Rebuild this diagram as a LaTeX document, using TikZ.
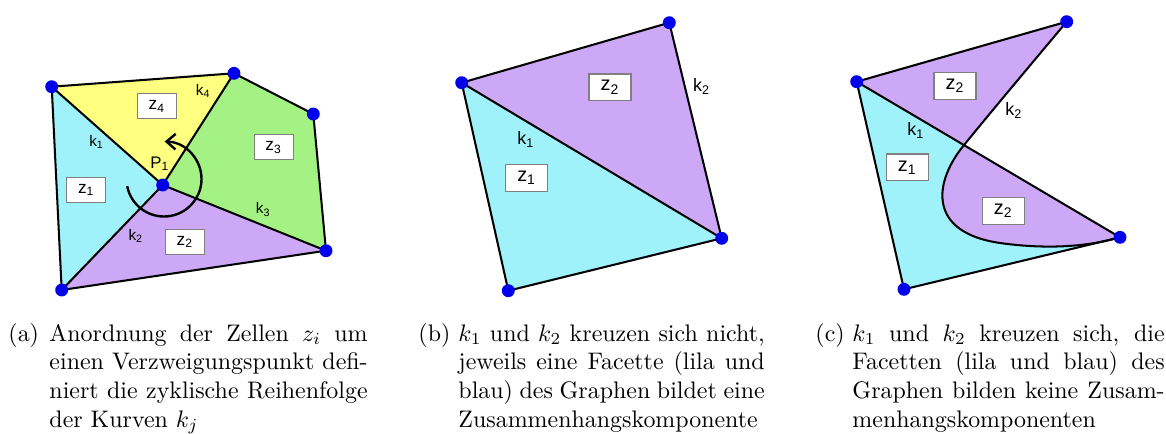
\documentclass[tikz,border=0pt]{standalone}
\usepackage{fontspec}
\newfontfamily\labfont{Liberation Sans}
\usetikzlibrary{arrows.meta,calc}
\definecolor{cyanf}{RGB}{160,242,250}
\definecolor{purplef}{RGB}{204,168,246}
\definecolor{yellowf}{RGB}{255,255,128}
\definecolor{greenf}{RGB}{164,242,132}
\definecolor{dotblue}{RGB}{0,0,235}
\begin{document}
\begin{tikzpicture}[x=0.418pt,y=-0.418pt,
  edge/.style={draw=black,line width=0.85pt,line join=round},
  vdot/.style={circle,fill=dotblue,inner sep=0pt,minimum size=5.4pt},
  zbox/.style={draw=black!50,fill=white,line width=0.5pt,minimum width=16.3pt,minimum height=10.5pt,inner sep=0pt,font=\labfont\fontsize{7.2}{8}\selectfont},
  zboxb/.style={zbox,minimum width=17.6pt,minimum height=11.2pt,font=\labfont\fontsize{8.3}{9}\selectfont},
  klab/.style={inner sep=0pt,font=\labfont\fontsize{6.4}{7}\selectfont},
  klabb/.style={inner sep=0pt,font=\labfont\fontsize{7.5}{8}\selectfont},
  arcarrow/.style={line width=1pt,-{Straight Barb[length=3.8pt,width=6.5pt]}},
  captxt/.style={anchor=base west,inner sep=0pt}]
\useasboundingbox (0,0) rectangle (1166,433);

% ---------- panel (a)
\coordinate (aA) at (51.7,86.7);
\coordinate (aB) at (234,73.3);
\coordinate (aC) at (313.3,114);
\coordinate (aD) at (326,250.7);
\coordinate (aE) at (61.7,290);
\coordinate (aP) at (162.7,185);
\fill[cyanf] (aA) -- (aP) -- (aE) -- cycle;
\fill[yellowf] (aA) -- (aB) -- (aP) -- cycle;
\fill[greenf] (aB) -- (aC) -- (aD) -- (aP) -- cycle;
\fill[purplef] (aP) -- (aD) -- (aE) -- cycle;
\draw[edge] (aA) -- (aB) -- (aC) -- (aD) -- (aE) -- cycle;
\draw[edge] (aA) -- (aP) (aP) -- (aB) (aP) -- (aD) (aP) -- (aE);
\coordinate (aM) at (164,179);
\draw[arcarrow] (aM) ++(-191:37.5) arc[start angle=-191,end angle=-449,radius=37.5];
\node[zbox] (az4) at (157,106.3) {z\textsubscript{4}};
\node[zbox] (az3) at (273.7,147.3) {z\textsubscript{3}};
\node[zbox] (az1) at (86.3,190) {z\textsubscript{1}};
\node[zbox] (az2) at (185,242) {z\textsubscript{2}};
\node[klab] (ak1) at (96.7,141.7) {k\textsubscript{1}};
\node[klab] (ak4) at (203.3,90.7) {k\textsubscript{4}};
\node[klab] (ak3) at (263.3,209.3) {k\textsubscript{3}};
\node[klab] (ak2) at (136,236) {k\textsubscript{2}};
\node[klab,font=\labfont\fontsize{7}{8}\selectfont] (aP1) at (160,164) {P\textsubscript{1}};
\foreach \v in {aA,aB,aC,aD,aE,aP} \node[vdot] at (\v) {};

% ---------- panel (b)
\coordinate (bA) at (461.7,82.7);
\coordinate (bB) at (669.3,22.7);
\coordinate (bC) at (721.7,238.3);
\coordinate (bD) at (508.3,290.7);
\fill[purplef] (bA) -- (bB) -- (bC) -- cycle;
\fill[cyanf] (bA) -- (bC) -- (bD) -- cycle;
\draw[edge] (bA) -- (bB) -- (bC) -- (bD) -- cycle;
\draw[edge] (bA) -- (bC);
\node[zboxb] (bz2) at (610,87.3) {z\textsubscript{2}};
\node[zboxb] (bz1) at (526.7,177.7) {z\textsubscript{1}};
\node[klabb] (bk2) at (701.7,86) {k\textsubscript{2}};
\node[klabb] (bk1) at (526,139.3) {k\textsubscript{1}};
\foreach \v in {bA,bB,bC,bD} \node[vdot] at (\v) {};

% ---------- panel (c)
\coordinate (cA) at (856.7,81.7);
\coordinate (cB) at (1066.7,21.7);
\coordinate (cC) at (1120,237.3);
\coordinate (cD) at (904,289.3);
\coordinate (cX) at ($(cA)!0.4075!(cC)$);
\fill[cyanf] (cA) -- (cC) -- (cD) -- cycle;
\fill[purplef] (cA) -- (cB) .. controls (1032.5,62.5) and (990,113) .. (cX)
  .. controls (935,180) and (925,232) .. (1000,243)
  .. controls (1050,250) and (1090,246) .. (cC) -- cycle;
\draw[edge] (cA) -- (cB);
\draw[edge] (cB) .. controls (1032.5,62.5) and (990,113) .. (cX)
  .. controls (935,180) and (925,232) .. (1000,243)
  .. controls (1050,250) and (1090,246) .. (cC);
\draw[edge] (cC) -- (cD) -- (cA) -- (cC);
\node[zboxb] (cz2a) at (955,86) {z\textsubscript{2}};
\node[zboxb] (cz1) at (907.3,167.3) {z\textsubscript{1}};
\node[zboxb] (cz2b) at (1003.3,210.7) {z\textsubscript{2}};
\node[klabb] (ck2) at (1014,110) {k\textsubscript{2}};
\node[klabb] (ck1) at (916,130.7) {k\textsubscript{1}};
\foreach \v in {cA,cB,cC,cD} \node[vdot] at (\v) {};

% ---------- captions
\node[captxt] (la) at (8,341) {(a)};
\node[captxt] (ta) at (49,341) {\parbox[t]{133pt}{%
\makebox[\linewidth][s]{Anordnung der Zellen $z_i$ um}\\
\makebox[\linewidth][s]{einen Verzweigungspunkt defi-}\\
\makebox[\linewidth][s]{niert die zyklische Reihenfolge}\\
der Kurven $k_j$}};
\node[captxt] (lb) at (418,341) {(b)};
\node[captxt] (tb) at (458,341) {\parbox[t]{128pt}{%
\makebox[\linewidth][s]{$k_1$ und $k_2$ kreuzen sich nicht,}\\
\makebox[\linewidth][s]{jeweils eine Facette (lila und}\\
\makebox[\linewidth][s]{blau) des Graphen bildet eine}\\
Zusammenhangskomponente}};
\node[captxt] (lc) at (815,341) {(c)};
\node[captxt] (tc) at (852,341) {\parbox[t]{130.5pt}{%
\makebox[\linewidth][s]{$k_1$ und $k_2$ kreuzen sich, die}\\
\makebox[\linewidth][s]{Facetten (lila und blau) des}\\
\makebox[\linewidth][s]{Graphen bilden keine Zusam-}\\
menhangskomponenten}};
\end{tikzpicture}
\end{document}
